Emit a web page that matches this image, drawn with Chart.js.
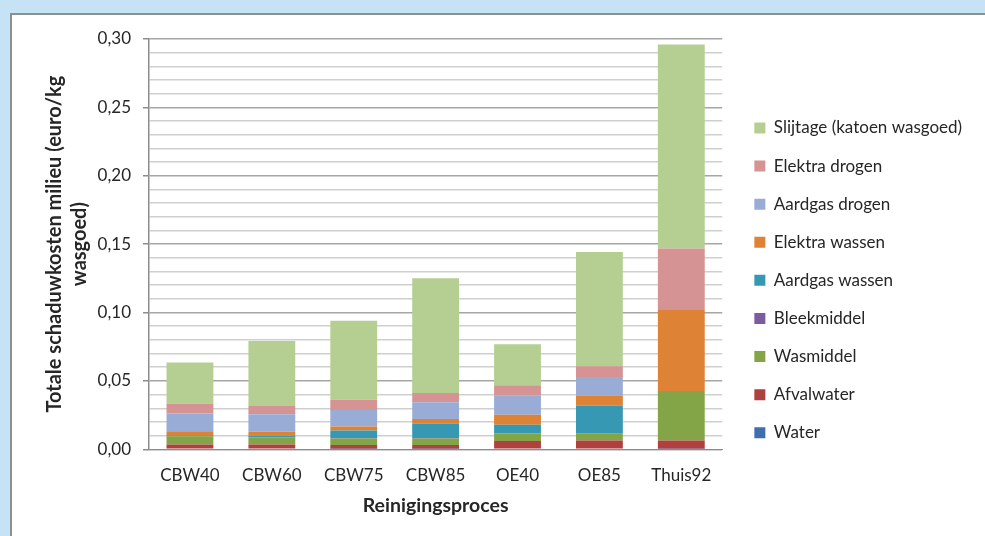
<!DOCTYPE html>
<html>
<head>
<meta charset="utf-8">
<script src="https://cdn.jsdelivr.net/npm/chart.js@4"></script>
<style>
  html, body { margin: 0; padding: 0; width: 985px; height: 536px; overflow: hidden; background: #c6e2f5; }
  #panel { position: absolute; left: 10px; top: 13px; width: 990px; height: 540px; background: #ffffff;
           border-top: 2px solid #8f8f8f; border-left: 2px solid #8f8f8f; }
  #wrap { position: absolute; left: 0; top: 0; width: 985px; height: 536px; }
</style>
</head>
<body>
<div id="panel"></div>
<div id="wrap"><canvas id="c" width="985" height="536"></canvas></div>
<script>
// Categories (cleaning processes)
const categories = ['CBW40', 'CBW60', 'CBW75', 'CBW85', 'OE40', 'OE85', 'Thuis92'];

// Series values (euro/kg wasgoed)
const water          = [0.0005, 0.0005, 0.0004, 0.0004, 0.0005, 0.0005, 0.0004];
const afvalwater     = [0.0030, 0.0030, 0.0028, 0.0028, 0.0055, 0.0060, 0.0060];
const wasmiddel      = [0.0060, 0.0049, 0.0047, 0.0047, 0.0056, 0.0049, 0.0363];
const bleekmiddel    = [0.0003, 0.0003, 0.0003, 0.0003, 0.0003, 0.0003, 0.0000];
const aardgasWassen  = [0.0005, 0.0012, 0.0055, 0.0104, 0.0060, 0.0204, 0.0000];
const elektraWassen  = [0.0029, 0.0029, 0.0029, 0.0036, 0.0073, 0.0073, 0.0591];
const aardgasDrogen  = [0.0129, 0.0129, 0.0122, 0.0122, 0.0144, 0.0134, 0.0000];
const elektraDrogen  = [0.0073, 0.0060, 0.0075, 0.0068, 0.0073, 0.0080, 0.0450];
const slijtage       = [0.0300, 0.0474, 0.0577, 0.0839, 0.0299, 0.0835, 0.1491];

const seriesNames = ['Water', 'Afvalwater', 'Wasmiddel', 'Bleekmiddel', 'Aardgas wassen',
                     'Elektra wassen', 'Aardgas drogen', 'Elektra drogen', 'Slijtage (katoen wasgoed)'];
const seriesData = [water, afvalwater, wasmiddel, bleekmiddel, aardgasWassen,
                    elektraWassen, aardgasDrogen, elektraDrogen, slijtage];
const seriesColors = ['#3f6fae', '#b0403f', '#84a547', '#7c5c9f', '#3798b3',
                      '#de8236', '#98acd6', '#d69394', '#b5cf92'];

// Y axis tick labels range
const yMin = 0, yMax = 0.30, yStep = 0.01, yLabelStep = 0.05;

const isMajor = v => Math.abs(v / yLabelStep - Math.round(v / yLabelStep)) < 1e-6;

const legendShift = {
  id: 'legendShift',
  afterLayout(chart) {
    if (chart.legend) { chart.legend.left += 11; chart.legend.right = chart.width; }
  }
};

Chart.defaults.font.family = 'Lato, "Open Sans", sans-serif';
Chart.defaults.color = '#262626';

new Chart(document.getElementById('c'), {
  type: 'bar',
  data: {
    labels: categories,
    datasets: seriesNames.map((n, i) => ({
      label: n,
      data: seriesData[i],
      backgroundColor: seriesColors[i],
      borderWidth: 0,
      categoryPercentage: 0.8,
      barPercentage: 0.715
    }))
  },
  plugins: [legendShift],
  options: {
    responsive: false,
    animation: false,
    devicePixelRatio: 1,
    layout: { padding: { left: 42, top: 39, right: 36, bottom: 14.3 } },
    plugins: {
      tooltip: { enabled: false },
      legend: {
        position: 'right',
        reverse: true,
        labels: {
          boxWidth: 11,
          boxHeight: 11,
          padding: 21.1,
          font: { size: 17 },
          color: '#262626'
        }
      }
    },
    scales: {
      x: {
        stacked: true,
        afterFit(scale) { scale.height = 72.4; },
        grid: { display: false, drawTicks: false },
        border: { display: true, color: '#8c8c8c' },
        ticks: { padding: 16, font: { size: 17 }, color: '#262626' },
        title: {
          display: true,
          text: 'Reinigingsproces',
          font: { size: 19.5, weight: 'bold' },
          color: '#262626',
          padding: { top: 0, bottom: 4 }
        }
      },
      y: {
        stacked: true,
        min: yMin,
        max: yMax,
        afterFit(scale) { scale.width = 107; },
        ticks: {
          stepSize: yStep,
          autoSkip: false,
          padding: 12,
          font: { size: 17 },
          color: '#262626',
          callback: v => isMajor(v) ? (Math.round(v * 100) / 100).toFixed(2).replace('.', ',') : ''
        },
        grid: {
          color: c => isMajor(c.tick.value) ? '#a6a6a6' : '#cfcfcf',
          tickColor: c => isMajor(c.tick.value) ? '#8c8c8c' : 'rgba(0,0,0,0)',
          tickLength: 6,
          lineWidth: 1.5
        },
        border: { display: true, color: '#8c8c8c', width: 1.5 },
        title: {
          display: true,
          text: ['Totale schaduwkosten milieu (euro/kg', 'wasgoed)'],
          font: { size: 20, weight: 'bold', lineHeight: 1.25 },
          color: '#262626',
          padding: { top: 0, bottom: 0 }
        }
      }
    }
  }
});
</script>
</body>
</html>
